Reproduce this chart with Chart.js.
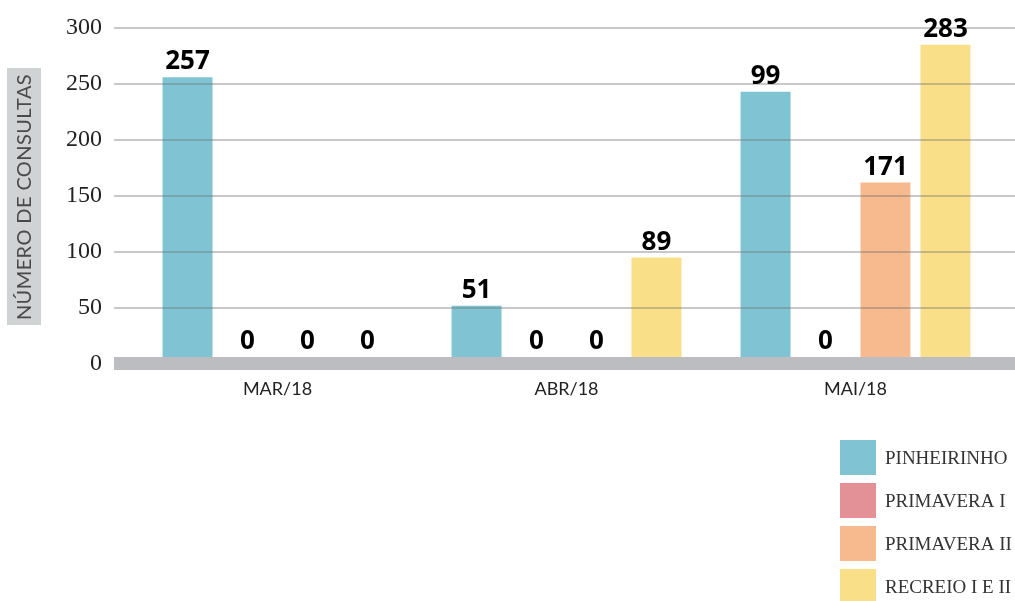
<!DOCTYPE html>
<html>
<head>
<meta charset="utf-8">
<script src="https://cdn.jsdelivr.net/npm/chart.js@4"></script>
<style>
  html, body { margin: 0; padding: 0; background: #fff; }
  #wrap { width: 1015px; height: 601px; position: relative; }
</style>
</head>
<body>
<div id="wrap"><canvas id="chart" width="1015" height="601"></canvas></div>
<script>
// months and series (bar heights; printed labels kept separately)
const months = ['MAR/18', 'ABR/18', 'MAI/18'];
const seriesNames = ['PINHEIRINHO', 'PRIMAVERA I', 'PRIMAVERA II', 'RECREIO I E II'];
const seriesColors = ['#80c4d4', '#e39097', '#f7ba8f', '#f9df87'];
const pinheirinho = [256, 52, 243];
const primavera1 = [0, 0, 0];
const primavera2 = [0, 0, 162];
const recreio = [0, 95, 285];
// numbers printed above the bars
const pinheirinhoLabels = ['257', '51', '99'];
const primavera1Labels = ['0', '0', '0'];
const primavera2Labels = ['0', '0', '171'];
const recreioLabels = ['0', '89', '283'];
const yTicks = [0, 50, 100, 150, 200, 250, 300];

const seriesValues = [pinheirinho, primavera1, primavera2, recreio];
const seriesLabels = [pinheirinhoLabels, primavera1Labels, primavera2Labels, recreioLabels];

// draws the y title box, gridlines over bars, grey baseline, value labels, legend
const decorations = {
  id: 'decorations',
  beforeDraw(chart) {
    const c = chart.ctx;
    c.save();
    c.fillStyle = '#d1d2d4';
    c.fillRect(7, 68, 34, 257);
    c.translate(25, 197);
    c.rotate(-Math.PI / 2);
    c.fillStyle = '#4a4a4a';
    c.font = '20px Lato';
    c.letterSpacing = '0.4px';
    c.textAlign = 'center';
    c.textBaseline = 'middle';
    c.fillText('NÚMERO DE CONSULTAS', 0, 0);
    c.restore();
  },
  afterDatasetsDraw(chart) {
    const c = chart.ctx;
    const y = chart.scales.y;
    c.save();
    // gridlines, drawn over the bars
    c.strokeStyle = 'rgba(110,110,110,0.38)';
    c.lineWidth = 2;
    yTicks.forEach(v => {
      if (v === 0) return;
      const py = Math.round(y.getPixelForValue(v));
      c.beginPath();
      c.moveTo(114, py);
      c.lineTo(1015, py);
      c.stroke();
    });
    // thick baseline
    const y0 = y.getPixelForValue(0);
    c.fillStyle = '#bcbdc0';
    c.fillRect(114, y0 - 7, 901, 13);
    // value labels
    c.fillStyle = '#000';
    c.font = 'bold 26px "Open Sans"';
    c.textAlign = 'center';
    c.textBaseline = 'alphabetic';
    chart.data.datasets.forEach((ds, i) => {
      chart.getDatasetMeta(i).data.forEach((bar, j) => {
        const top = Math.min(bar.y, y0 - 7);
        c.fillText(seriesLabels[i][j], bar.x, top - 8);
      });
    });
    // legend
    c.font = '19px "Liberation Serif"';
    c.textAlign = 'left';
    c.textBaseline = 'middle';
    seriesNames.forEach((name, i) => {
      const ty = 440 + i * 43;
      c.fillStyle = seriesColors[i];
      c.fillRect(840, ty, 36, 35);
      c.fillStyle = '#333';
      c.fillText(name, 885, ty + 19);
    });
    c.restore();
  }
};

new Chart(document.getElementById('chart'), {
  type: 'bar',
  data: {
    labels: months,
    datasets: seriesNames.map((name, i) => ({
      label: name,
      data: seriesValues[i],
      backgroundColor: seriesColors[i],
      borderWidth: 0,
      categoryPercentage: 0.83,
      barPercentage: 0.833
    }))
  },
  options: {
    responsive: false,
    animation: false,
    layout: { padding: { left: 0, right: 15, top: 28, bottom: 0 } },
    plugins: { legend: { display: false }, tooltip: { enabled: false } },
    scales: {
      x: {
        grid: { display: false },
        border: { display: false },
        ticks: { color: '#222', font: { family: 'Lato', size: 18 }, padding: 6 },
        afterFit(scale) { scale.height = 237; scale.paddingLeft = 0; scale.paddingRight = 0; }
      },
      y: {
        min: 0,
        max: 300,
        afterBuildTicks(scale) { scale.ticks = yTicks.map(v => ({ value: v })); },
        grid: { display: false },
        border: { display: false },
        ticks: { color: '#222', font: { family: 'Liberation Serif', size: 24 }, padding: 23 },
        afterFit(scale) { scale.width = 133; scale.paddingTop = 0; scale.paddingBottom = 0; }
      }
    }
  },
  plugins: [decorations]
});
</script>
</body>
</html>
